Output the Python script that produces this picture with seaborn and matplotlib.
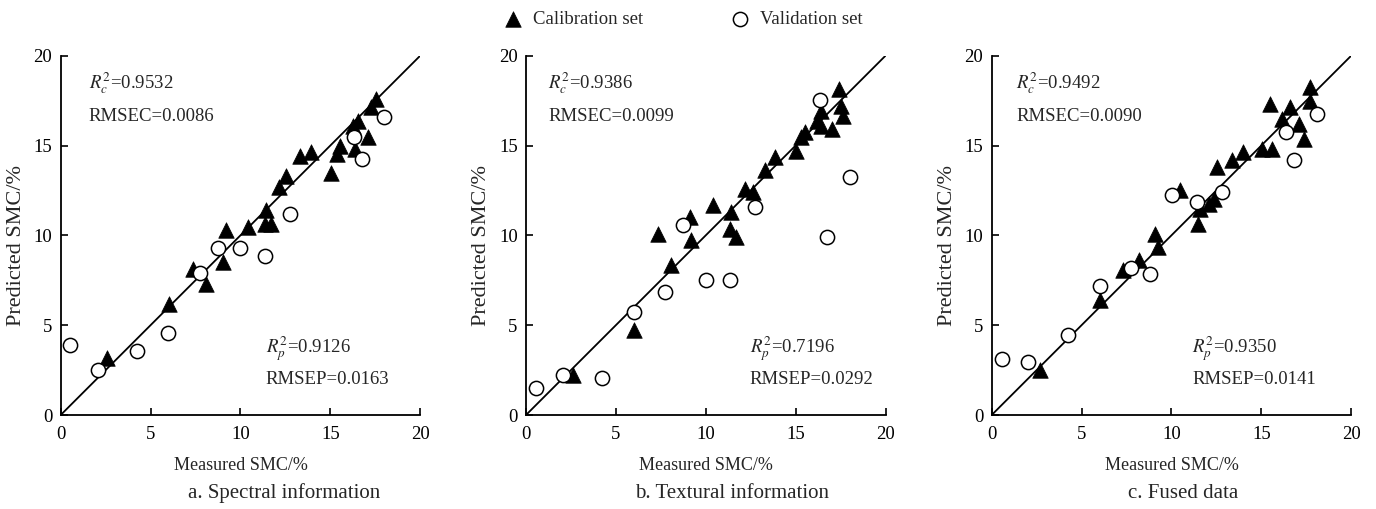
# Measured vs. predicted soil moisture content for three input data types

import pandas as pd
import matplotlib.pyplot as plt
import seaborn as sns
import numpy as np

# a. Spectral information
spec_cal_x = [2.59, 6.04, 7.37, 8.10, 9.04, 9.22, 10.43, 11.44, 11.35, 11.72, 12.15, 12.52,
              13.30, 13.94, 15.05, 15.39, 15.52, 16.26, 16.54, 16.35, 17.09, 17.28, 17.56]
spec_cal_y = [3.20, 6.20, 8.15, 7.28, 8.50, 10.28, 10.46, 11.43, 10.65, 10.65, 12.69, 13.33,
              14.44, 14.63, 13.48, 14.54, 15.00, 16.11, 16.39, 14.81, 15.46, 17.13, 17.59]
spec_val_x = [0.52, 2.06, 4.22, 5.98, 7.74, 8.76, 9.96, 11.35, 12.74, 16.30, 16.74, 18.00]
spec_val_y = [3.89, 2.50, 3.57, 4.59, 7.93, 9.31, 9.31, 8.85, 11.20, 15.50, 14.26, 16.60]

# b. Textural information
text_cal_x = [2.63, 6.02, 7.35, 8.09, 9.11, 9.20, 10.41, 11.43, 11.33, 11.70, 12.17, 12.63,
              13.28, 13.83, 15.04, 15.31, 15.50, 16.20, 16.40, 16.40, 17.00, 17.44, 17.54, 17.63]
text_cal_y = [2.22, 4.72, 10.06, 8.33, 11.02, 9.72, 11.67, 11.30, 10.37, 9.91, 12.59, 12.41,
              13.61, 14.35, 14.72, 15.46, 15.74, 16.39, 16.94, 16.11, 15.93, 18.15, 17.22, 16.67]
text_val_x = [0.54, 2.04, 4.24, 6.00, 7.76, 8.74, 10.04, 11.33, 12.72, 16.33, 16.76, 18.00]
text_val_y = [1.48, 2.22, 2.04, 5.74, 6.85, 10.56, 7.54, 7.54, 11.57, 17.54, 9.91, 13.24]

# c. Fused data
fuse_cal_x = [2.66, 6.04, 7.30, 8.17, 9.10, 9.23, 10.49, 11.46, 11.57, 12.07, 12.35, 12.53,
              13.37, 13.98, 15.04, 15.60, 15.50, 16.16, 16.58, 17.08, 17.36, 17.70, 17.73]
fuse_cal_y = [2.50, 6.39, 8.06, 8.61, 10.09, 9.35, 12.50, 10.65, 11.48, 11.76, 12.04, 13.80,
              14.20, 14.63, 14.81, 14.81, 17.31, 16.48, 17.13, 16.20, 15.37, 18.24, 17.50]
fuse_val_x = [0.56, 2.04, 4.22, 6.00, 7.74, 8.78, 10.03, 11.42, 12.81, 16.40, 16.84, 18.07]
fuse_val_y = [3.11, 2.96, 4.44, 7.17, 8.19, 7.87, 12.22, 11.85, 12.41, 15.74, 14.17, 16.76]

subtitles = ["a. Spectral information", "b. Textural information", "c. Fused data"]
r2c = ["0.9532", "0.9386", "0.9492"]
rmsec = ["0.0086", "0.0099", "0.0090"]
r2p = ["0.9126", "0.7196", "0.9350"]
rmsep = ["0.0163", "0.0292", "0.0141"]
ticks = [0, 5, 10, 15, 20]

panels = [
    (spec_cal_x, spec_cal_y, spec_val_x, spec_val_y),
    (text_cal_x, text_cal_y, text_val_x, text_val_y),
    (fuse_cal_x, fuse_cal_y, fuse_val_x, fuse_val_y),
]

sns.set_style("ticks")
plt.rcParams["font.family"] = ["Liberation Serif", "DejaVu Serif"]
plt.rcParams["mathtext.fontset"] = "stix"

W, H = 1376, 509
fig = plt.figure(figsize=(W / 100, H / 100), dpi=100)

# axes placement in pixels (left edge), shared size
lefts = [60.7, 526, 991.7]
ax_w, ax_h, ax_bottom = 359.5, 359.3, 94
# where the corner texts sit (data coords)
top_x = [1.55, 1.25, 1.35]
bot_x = [11.4, 12.45, 11.15]
sub_centers = [284, 732, 1183]

handles = None
for i, (cx, cy, vx, vy) in enumerate(panels):
    ax = fig.add_axes([lefts[i] / W, ax_bottom / H, ax_w / W, ax_h / H])

    ax.axline((0, 0), slope=1, color="black", lw=1.3, zorder=1)
    sns.scatterplot(x=cx, y=cy, marker="^", s=125, color="black", edgecolor="black",
                    linewidth=0.5, label="Calibration set", legend=False, ax=ax, zorder=3)
    sns.scatterplot(x=vx, y=vy, marker="o", s=105, facecolor="white", edgecolor="black",
                    linewidth=1.1, label="Validation set", legend=False, ax=ax, zorder=4)

    ax.set_xlim(0, 20)
    ax.set_ylim(0, 20)
    ax.set_xticks(ticks)
    ax.set_yticks(ticks)
    sns.despine(ax=ax)
    for side in ["left", "bottom"]:
        ax.spines[side].set_linewidth(1.3)
        ax.spines[side].set_color("black")
    ax.tick_params(direction="in", length=5, width=1.2, labelsize=13.5, colors="black")
    ax.tick_params(axis="x", pad=8)
    ax.tick_params(axis="y", pad=6)

    ax.set_xlabel("Measured SMC/%", fontsize=13, labelpad=10)
    ax.set_ylabel("Predicted SMC/%", fontsize=16)
    ax.yaxis.set_label_coords(-0.097, (415 - 245) / ax_h)

    ax.text(top_x[i], 18.45, r"$R_c^2$=" + r2c[i], fontsize=13.5, va="center")
    ax.text(top_x[i], 16.6, "RMSEC=" + rmsec[i], fontsize=13.5, va="center")
    ax.text(bot_x[i], 3.7, r"$R_p^2$=" + r2p[i], fontsize=13.5, va="center")
    ax.text(bot_x[i], 1.95, "RMSEP=" + rmsep[i], fontsize=13.5, va="center")

    fig.text(sub_centers[i] / W, 1 - 493 / H, subtitles[i], fontsize=15, ha="center", va="center")

    if handles is None:
        handles, labels = ax.get_legend_handles_labels()

# legend across the top, one entry each
for h, lab, x0 in zip(handles, labels, [504, 731]):
    fig.legend(handles=[h], labels=[lab], loc="center left", bbox_to_anchor=(x0 / W, 1 - 19 / H),
               frameon=False, fontsize=13.5, handlelength=1, handletextpad=0.55,
               borderpad=0, borderaxespad=0)

plt.savefig("out.png", dpi=100)
